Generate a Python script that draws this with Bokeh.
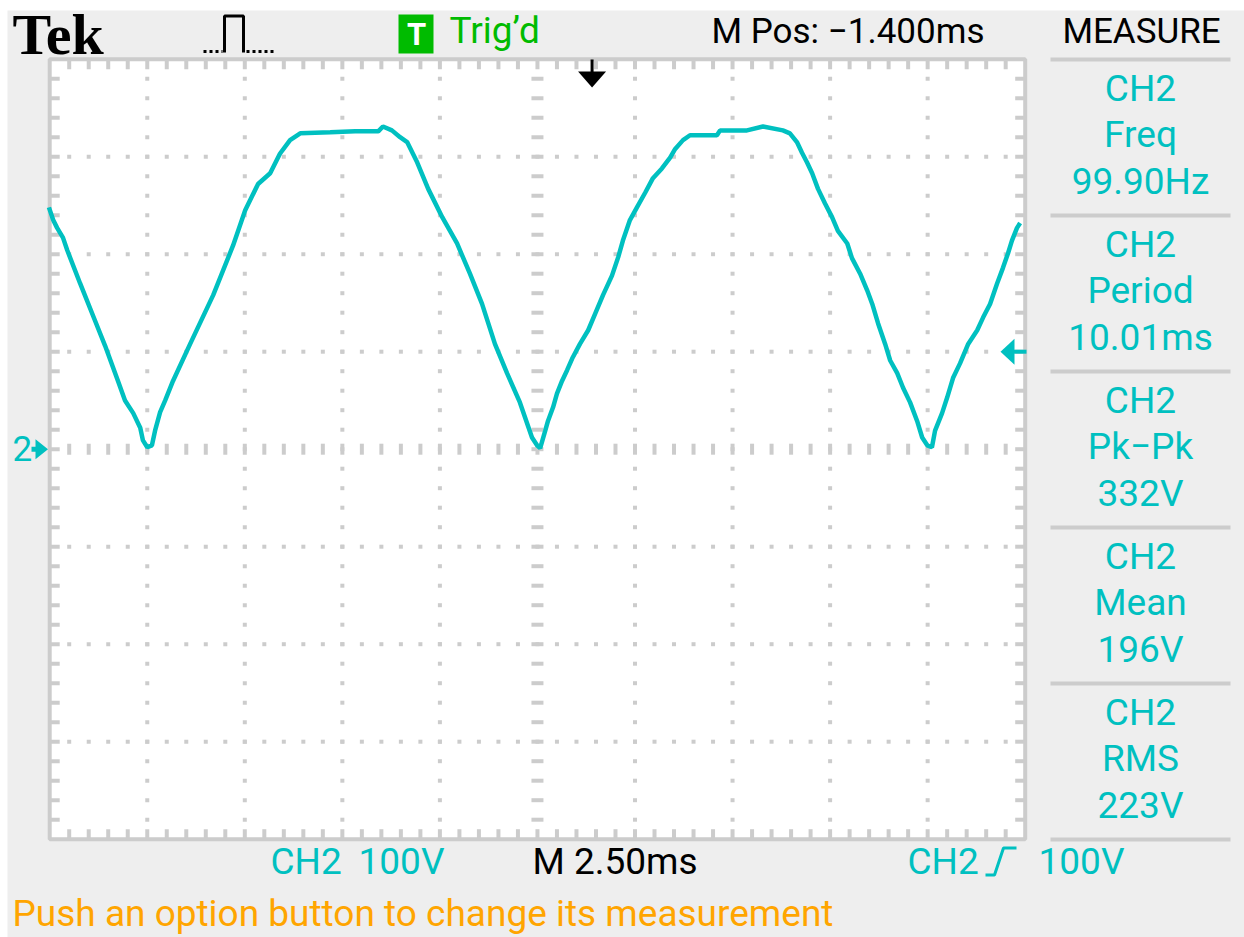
from bokeh.plotting import figure
from bokeh.models import Range1d
from bokeh.embed import file_html
from bokeh.resources import INLINE
from bokeh.core.properties import value

# ---------------- data ----------------
# CH2 trace: time in ms relative to the trigger point, voltage in volts
t_ms = [-13.92, -13.81, -13.71, -13.56, -13.45, -13.12, -12.74, -12.48, -12.15, -11.97,
        -11.76, -11.58, -11.51, -11.40, -11.28, -11.20, -11.07, -10.94, -10.74, -10.30,
        -9.71, -9.20, -8.89, -8.56, -8.25, -8.00, -7.74, -7.48, -6.71, -6.07,
        -5.48, -5.36, -5.13, -4.92, -4.74, -4.48, -4.20, -3.84, -3.46, -3.13,
        -2.82, -2.49, -2.18, -1.85, -1.54, -1.41, -1.33, -1.20, -1.13, -1.00,
        -0.90, -0.77, -0.64, -0.51, -0.31, -0.10, 0.08, 0.28, 0.51, 0.67,
        0.79, 0.97, 1.15, 1.36, 1.56, 1.79, 2.00, 2.13, 2.33, 2.51,
        3.20, 3.28, 3.97, 4.38, 4.89, 5.07, 5.25, 5.38, 5.51, 5.64,
        5.79, 5.97, 6.15, 6.30, 6.54, 6.66, 6.87, 7.05, 7.18, 7.33,
        7.51, 7.64, 7.82, 7.97, 8.15, 8.33, 8.46, 8.59, 8.71, 8.79,
        8.97, 9.10, 9.25, 9.43, 9.64, 9.87, 10.02, 10.20, 10.38, 10.53,
        10.66, 10.76, 10.89, 10.97]
v_volts = [248, 235, 227, 217, 204, 170, 132, 106, 70, 50,
           37, 22, 9, 2, 4, 19, 38, 50, 70, 108,
           158, 209, 245, 272, 283, 303, 317, 324, 325, 326,
           326, 331, 327, 320, 315, 294, 267, 238, 211, 180,
           149, 108, 78, 48, 12, 4, 1, 19, 29, 43,
           57, 70, 81, 93, 108, 122, 139, 158, 178, 197,
           214, 235, 248, 263, 278, 288, 299, 308, 317, 322,
           322, 327, 327, 331, 327, 324, 315, 304, 294, 283,
           267, 252, 238, 224, 211, 196, 180, 163, 149, 129,
           108, 91, 78, 63, 48, 29, 12, 4, 2, 19,
           37, 53, 73, 88, 108, 122, 135, 149, 170, 186,
           201, 214, 227, 232]

meas_sources = ["CH2", "CH2", "CH2", "CH2", "CH2"]
meas_names = ["Freq", "Period", "Pk\u2212Pk", "Mean", "RMS"]
meas_values = ["99.90Hz", "10.01ms", "332V", "196V", "223V"]

SEC_DIV = 2.5        # ms / div
VOLT_DIV = 100       # V / div
M_POS = -1.4         # ms
TRIG_LEVEL = 100     # V
N_XDIV, N_YDIV = 10, 8
status_msg = "Push an option button to change its measurement"

# ---------------- layout / style ----------------
OFF = 0
W, H = 1244, 937
GL, GR, GT, GB = 49.2, 1024.7, 58.7, 838.7      # graticule edges on the page (px)
BG = "#EEEEEE"
GRID = "#CCCCCC"
CYAN = "#00C0C0"
GREEN = "#00BB00"
ORANGE = "#FFA500"
FONT = "Roboto"
FS = 37

PX_MS = (GR - GL) / (N_XDIV * SEC_DIV)
PX_V = (GB - GT) / (N_YDIV * VOLT_DIV)
T_LEFT = M_POS - N_XDIV / 2 * SEC_DIV
T_RIGHT = M_POS + N_XDIV / 2 * SEC_DIV
V_TOP = N_YDIV / 2 * VOLT_DIV
V_BOT = -V_TOP

x_start = T_LEFT - (GL - OFF) / PX_MS
x_end = x_start + W / PX_MS
y_top = V_TOP + (GT - OFF) / PX_V
y_bot = y_top - H / PX_V


def px2t(px):
    return x_start + (px - OFF) / PX_MS


def py2v(py):
    return y_top - (py - OFF) / PX_V


p = figure(width=W, height=H, x_range=Range1d(x_start, x_end), y_range=Range1d(y_bot, y_top),
           output_backend="svg", toolbar_location=None, x_axis_type=None, y_axis_type=None,
           min_border=0, background_fill_color="white", border_fill_color="white",
           outline_line_color=None)

# instrument screen background
p.quad(left=[px2t(7)], right=[px2t(W + 2)], top=[py2v(10)], bottom=[py2v(H + 2)],
       fill_color=BG, line_color=None)

# graticule area
p.quad(left=[T_LEFT], right=[T_RIGHT], bottom=[V_BOT], top=[V_TOP], fill_color="white", line_color=None)

minor_t = [T_LEFT + j * SEC_DIV / 5 for j in range(1, N_XDIV * 5)]
minor_v = [V_BOT + j * VOLT_DIV / 5 for j in range(1, N_YDIV * 5)]
t_center = (T_LEFT + T_RIGHT) / 2
v_center = 0.0

dx, dy = [], []
for k in range(1, N_XDIV):
    if k == N_XDIV // 2:
        continue
    tk = T_LEFT + k * SEC_DIV
    for v in minor_v:
        dx.append(tk)
        dy.append(v)
for m in range(1, N_YDIV):
    if m == N_YDIV // 2:
        continue
    vm = V_BOT + m * VOLT_DIV
    for t in minor_t:
        dx.append(t)
        dy.append(vm)
p.scatter(dx, dy, marker="square", size=4, fill_color=GRID, line_color=None)

# center line ticks
p.rect(x=[t_center] * len(minor_v), y=minor_v, width=12, height=4, width_units="screen",
       height_units="screen", fill_color=GRID, line_color=None)
p.rect(x=minor_t, y=[v_center] * len(minor_t), width=4, height=11, width_units="screen",
       height_units="screen", fill_color=GRID, line_color=None)

# border ticks
p.rect(x=minor_t, y=[V_TOP - 5 / PX_V] * len(minor_t), width=4, height=10, width_units="screen",
       height_units="screen", fill_color=GRID, line_color=None)
p.rect(x=minor_t, y=[V_BOT + 5 / PX_V] * len(minor_t), width=4, height=10, width_units="screen",
       height_units="screen", fill_color=GRID, line_color=None)
p.rect(x=[T_LEFT + 5 / PX_MS] * len(minor_v), y=minor_v, width=10, height=4, width_units="screen",
       height_units="screen", fill_color=GRID, line_color=None)
p.rect(x=[T_RIGHT - 5 / PX_MS] * len(minor_v), y=minor_v, width=10, height=4, width_units="screen",
       height_units="screen", fill_color=GRID, line_color=None)

# border
p.quad(left=[T_LEFT], right=[T_RIGHT], bottom=[V_BOT], top=[V_TOP], fill_color=None,
       line_color=GRID, line_width=4)

# trace
p.line(t_ms, v_volts, line_color=CYAN, line_width=4.5)

# trigger position marker (t = 0)
p.segment(x0=[0], y0=[py2v(59)], x1=[0], y1=[py2v(73)], line_color="black", line_width=3)
p.patch([-14 / PX_MS, 14 / PX_MS, 0], [py2v(71), py2v(71), py2v(87)], fill_color="black", line_color=None)

# ground marker (channel 2)
p.patch([px2t(35), px2t(35), px2t(47.5)], [v_center + 10 / PX_V, v_center - 10 / PX_V, v_center],
        fill_color=CYAN, line_color=None)
p.segment(x0=[px2t(31)], y0=[v_center], x1=[px2t(40)], y1=[v_center], line_color=CYAN, line_width=5)

# trigger level marker
p.patch([px2t(1000), px2t(1014), px2t(1014)], [TRIG_LEVEL, TRIG_LEVEL + 13 / PX_V, TRIG_LEVEL - 13 / PX_V],
        fill_color=CYAN, line_color=None)
p.segment(x0=[px2t(1005)], y0=[TRIG_LEVEL], x1=[px2t(1026)], y1=[TRIG_LEVEL], line_color=CYAN, line_width=4)


def txt(px, py_mid, s, color, size=FS, align="left", font=FONT, style="normal"):
    # py_mid: vertical middle of the capital letters on the page
    p.text(x=[px2t(px)], y=[py2v(py_mid)], text=[s], text_color=color, text_font_size=f"{size}px",
           text_font=value(font), text_align=align, text_baseline="alphabetic", text_font_style=style)


# measurement panel
p.segment(x0=[px2t(1050)] * 6, y0=[py2v(59 + k * 156) for k in range(6)],
          x1=[px2t(1230)] * 6, y1=[py2v(59 + k * 156) for k in range(6)],
          line_color=GRID, line_width=4)
for k, (src, name, val) in enumerate(zip(meas_sources, meas_names, meas_values)):
    y0 = 59 + k * 156
    txt(1140, y0 + 28.5, src, CYAN, align="center")
    txt(1140, y0 + 75, name, CYAN, align="center")
    txt(1140, y0 + 122, val, CYAN, align="center")

# header
txt(12, 33.5, "Tek", "black", 58, font="Liberation Serif", style="bold")
p.line([px2t(203), px2t(222)], [py2v(51), py2v(51)], line_color="black", line_width=3, line_dash="3 3")
p.line([px2t(224), px2t(224), px2t(243), px2t(243)], [py2v(52), py2v(15.5), py2v(15.5), py2v(52)],
       line_color="black", line_width=3)
p.line([px2t(246), px2t(273)], [py2v(51), py2v(51)], line_color="black", line_width=3, line_dash="3 3")
p.quad(left=[px2t(398)], right=[px2t(433)], top=[py2v(14)], bottom=[py2v(53)], fill_color=GREEN, line_color=None)
txt(416, 33.5, "T", "white", 31, "center", style="bold")
txt(449, 29.5, "Trig\u2019d", GREEN, 37)
txt(711, 31, f"M Pos: \u2212{abs(M_POS):.3f}ms", "black", 35)
txt(1141, 31, "MEASURE", "black", 35, align="center")

# ground label
txt(12, 448, "2", CYAN, 35)

# footer
txt(270, 860.5, "CH2", CYAN)
txt(358, 860.5, f"{VOLT_DIV}V", CYAN)
txt(532, 860.5, f"M {SEC_DIV:.2f}ms", "black")
txt(907, 860.5, "CH2", CYAN)
p.line([px2t(985), px2t(994), px2t(1003), px2t(1016)], [py2v(874.5), py2v(874.5), py2v(847.5), py2v(847.5)],
       line_color=CYAN, line_width=3)
txt(1038, 860.5, f"{TRIG_LEVEL}V", CYAN)
txt(12, 913, status_msg, ORANGE, 37)

open("out.html", "w").write(file_html(p, INLINE))
